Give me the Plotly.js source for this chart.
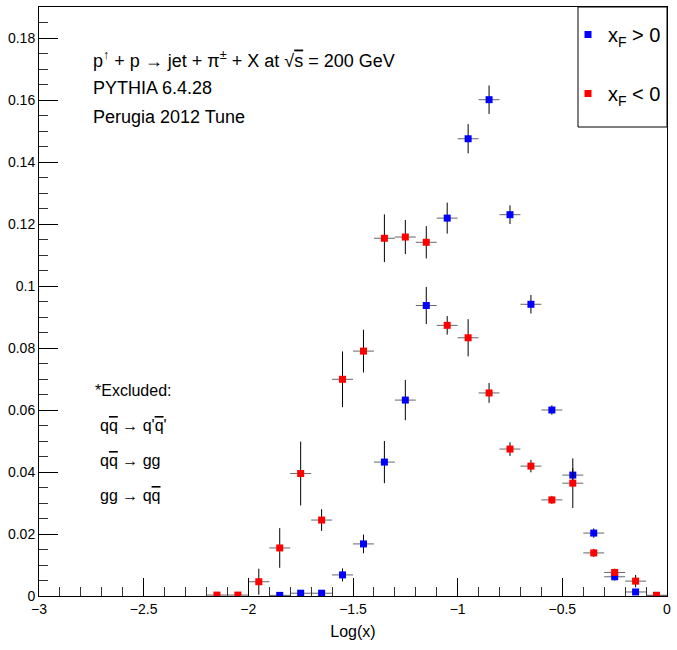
<!DOCTYPE html>
<html>
<head>
<meta charset="utf-8">
<script src="https://cdn.plot.ly/plotly-3.0.1.min.js"></script>
<style>html,body{margin:0;padding:0;background:#fff;}#chart{width:677px;height:650px;}</style>
</head>
<body>
<div id="chart"></div>
<script>
// xF > 0 (blue)
const xPos = [-1.85,-1.75,-1.65,-1.55,-1.45,-1.35,-1.25,-1.15,-1.05,-0.95,-0.85,-0.75,-0.65,-0.55,-0.45,-0.35,-0.25,-0.15,-0.05];
const yPos = [0.0002,0.0009,0.0009,0.0068,0.0168,0.0432,0.0632,0.0937,0.1219,0.1475,0.1601,0.1230,0.0941,0.0600,0.0390,0.0203,0.0062,0.0013,0.0002];
const ePos = [0.0003,0.0006,0.0006,0.0021,0.0030,0.0068,0.0065,0.0060,0.0050,0.0047,0.0046,0.0030,0.0030,0.0015,0.0022,0.0015,0.0012,0.0007,0.0002];
// xF < 0 (red)
const xNeg = [-2.15,-2.05,-1.95,-1.85,-1.75,-1.65,-1.55,-1.45,-1.35,-1.25,-1.15,-1.05,-0.95,-0.85,-0.75,-0.65,-0.55,-0.45,-0.35,-0.25,-0.15,-0.05];
const yNeg = [0.0003,0.0003,0.0046,0.0155,0.0395,0.0245,0.0699,0.0790,0.1154,0.1158,0.1141,0.0873,0.0833,0.0655,0.0474,0.0419,0.0310,0.0364,0.0139,0.0076,0.0048,0.0002];
const eNeg = [0.0002,0.0002,0.0042,0.0064,0.0103,0.0035,0.0090,0.0069,0.0077,0.0055,0.0052,0.0030,0.0060,0.0032,0.0022,0.0020,0.0013,0.0080,0.0013,0.0012,0.0020,0.0003];
const binHalfWidth = 0.05;
const seriesNames = ['x<sub>F</sub> > 0', 'x<sub>F</sub> < 0'];

const FONT = 'Liberation Sans, Arial, Helvetica, sans-serif';

function trace(x, y, e, color, name, group) {
  return {
    type: 'scatter', mode: 'markers', x: x, y: y, name: name, legendgroup: group,
    marker: {symbol: 'square', size: 7, color: color},
    error_y: {type: 'data', array: e, visible: true, color: '#000', thickness: 1, width: 0},
    error_x: {type: 'constant', value: binHalfWidth, visible: true, color: '#666', thickness: 1, width: 0},
    cliponaxis: true
  };
}

const data = [
  trace(xPos, yPos, ePos, '#0000ff', seriesNames[0], 'pos'),
  trace(xNeg, yNeg, eNeg, '#ff0000', seriesNames[1], 'neg')
];

const L = 39, R = 667, T = 7, B = 596;
function px(x) { return (x - L) / (R - L); }
function py(y) { return (B - y) / (B - T); }
function ann(text, x, y, size) {
  return {text: text, xref: 'paper', yref: 'paper', x: px(x), y: py(y), xanchor: 'left', yanchor: 'middle',
          showarrow: false, font: {family: FONT, size: size, color: '#000'}};
}
const ov = (s) => "<span style='text-decoration:overline'>" + s + "</span>";

const layout = {
  width: 677, height: 650,
  margin: {l: L, r: 677 - R, t: T, b: 650 - B, pad: 0},
  paper_bgcolor: '#fff', plot_bgcolor: '#fff',
  font: {family: FONT, size: 14, color: '#000'},
  showlegend: true,
  legend: {
    x: px(568), xanchor: 'left', y: py(15), yanchor: 'top',
    borderwidth: 0, bgcolor: 'rgba(0,0,0,0)',
    font: {family: FONT, size: 20, color: '#000'},
    itemwidth: 30, tracegroupgap: 30, traceorder: 'grouped'
  },
  shapes: [
    {type: 'rect', xref: 'paper', yref: 'paper', x0: px(578), x1: px(667), y0: py(127), y1: py(7),
     line: {color: '#000', width: 1}, fillcolor: 'rgba(0,0,0,0)', layer: 'above'}
  ],
  xaxis: {
    range: [-3, 0], dtick: 0.5, tick0: -3,
    ticks: 'inside', ticklen: 18, tickwidth: 1, tickcolor: '#000',
    minor: {dtick: 0.1, ticks: 'inside', ticklen: 9, tickcolor: '#333', tickwidth: 1},
    showline: true, linecolor: '#000', linewidth: 1, mirror: true,
    showgrid: false, zeroline: false,
    tickfont: {family: FONT, size: 14},
    title: {text: 'Log(x)', font: {family: FONT, size: 16}, standoff: 10}
  },
  yaxis: {
    range: [0, 0.19], dtick: 0.02, tick0: 0,
    ticks: 'inside', ticklen: 19, tickwidth: 1, tickcolor: '#000',
    minor: {dtick: 0.005, ticks: 'inside', ticklen: 9, tickcolor: '#333', tickwidth: 1},
    showline: true, linecolor: '#000', linewidth: 1, mirror: true,
    showgrid: false, zeroline: false,
    tickfont: {family: FONT, size: 14}
  },
  annotations: [
    ann('p<sup>↑</sup> + p → jet + π<sup>±</sup> + X at √' + ov('s') + ' = 200 GeV', 91, 60, 18),
    ann('PYTHIA 6.4.28', 91, 88, 18),
    ann('Perugia 2012 Tune', 91, 117, 18),
    ann('*Excluded:', 93, 391, 16),
    ann('q' + ov('q') + ' → q\'' + ov('q') + '\'', 98, 425, 16),
    ann('q' + ov('q') + ' → gg', 98, 460, 16),
    ann('gg → q' + ov('q'), 98, 495, 16)
  ]
};

Plotly.newPlot('chart', data, layout, {displayModeBar: false, staticPlot: true});
</script>
</body>
</html>
